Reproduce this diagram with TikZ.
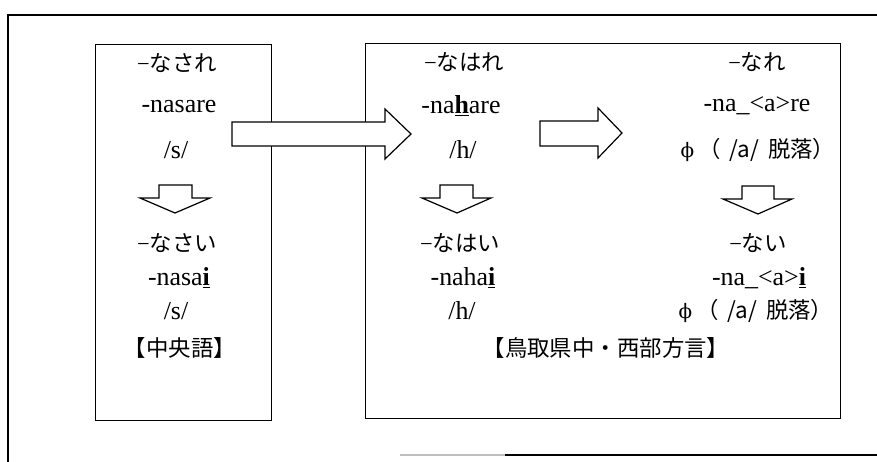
\documentclass[tikz,border=0pt]{standalone}
\usepackage{fontspec}
\setmainfont{Liberation Serif}
\newfontfamily\jp{Noto Sans CJK JP}
\newfontfamily\phifont{DejaVu Serif}
\begin{document}
\begin{tikzpicture}[x=1bp,y=-1bp,
  lat/.style={font=\fontsize{26}{29}\selectfont, inner sep=0pt, anchor=center},
  jpn/.style={font=\jp\fontsize{22.5}{26}\selectfont, inner sep=0pt, anchor=center},
  boxframe/.style={draw, line width=1.2bp, inner sep=0pt, anchor=north west},
  blockarrow/.style={draw, fill=white, line width=1.2bp, line join=miter},
  frameline/.style={line width=2bp}
]
\useasboundingbox (0,0) rectangle (877,462);
\newcommand{\mdash}{{\fontspec{Liberation Serif}\char"2212}}
\newcommand{\philine}{{\phifont\fontsize{20}{24}\selectfont ϕ}\hspace{4bp}{\jp\fontsize{22.5}{26}\selectfont （\hspace{9bp}/a/\hspace{9bp}脱落）}}
% outer frame (cropped)
\coordinate (fbl) at (8,462);
\coordinate (ftl) at (8,15);
\coordinate (ftr) at (877,15);
\coordinate (fb1) at (400,455);
\coordinate (fb2) at (505,455);
\coordinate (fb3) at (877,455);
\draw[frameline] (fbl) -- (ftl) -- (ftr);
\draw[frameline, gray!50] (fb1) -- (fb2);
\draw[frameline] (fb2) -- (fb3);
% boxes
\node[boxframe, minimum width=176bp, minimum height=376bp] (cbox) at (95,44) {};
\node[boxframe, minimum width=475bp, minimum height=375bp] (tbox) at (365,43) {};
% left column
\node[jpn] (l1) at (177,63) {\mdash なされ};
\node[lat] (l2) at (179,107) {-nasare};
\node[lat] (l3) at (176,150) {/s/};
\node[jpn] (l4) at (177,243) {\mdash なさい};
\node[lat] (l5) at (179,278) {-nasa\underline{\textbf{i}}};
\node[lat] (l6) at (176,311) {/s/};
\node[jpn] (l7) at (180,348) {【中央語】};
% middle column
\node[jpn] (m1) at (464,62) {\mdash なはれ};
\node[lat] (m2) at (461,106) {-na\underline{\textbf{h}}are};
\node[lat] (m3) at (463,150) {/h/};
\node[jpn] (m4) at (460,243) {\mdash なはい};
\node[lat] (m5) at (463,278) {-naha\underline{\textbf{i}}};
\node[lat] (m6) at (462,311) {/h/};
% right column
\node[jpn] (r1) at (757,62) {\mdash なれ};
\node[lat] (r2) at (757,106) {-na\_<a>re};
\node[lat] (r3) at (758,150) {\philine};
\node[jpn] (r4) at (758,243) {\mdash ない};
\node[lat] (r5) at (759,278) {-na\_<a>\underline{\textbf{i}}};
\node[lat] (r6) at (756,311) {\philine};
\node[jpn] (rb) at (606,348) {【鳥取県中・西部方言】};
% block arrows
\draw[blockarrow] (232,122) -- (385,122) -- (385,109) -- (411,134) -- (385,159) -- (385,146) -- (232,146) -- cycle;
\draw[blockarrow] (540,121) -- (598,121) -- (598,108) -- (622,133) -- (598,158) -- (598,146) -- (540,146) -- cycle;
\draw[blockarrow] (159,185) -- (192,185) -- (192,198) -- (210,198) -- (175,213) -- (140,198) -- (159,198) -- cycle;
\draw[blockarrow] (440,185) -- (473,185) -- (473,198) -- (491,198) -- (457,213) -- (422,198) -- (440,198) -- cycle;
\draw[blockarrow] (742,186) -- (774,186) -- (774,199) -- (792,199) -- (758,214) -- (723,199) -- (742,199) -- cycle;
\end{tikzpicture}
\end{document}
